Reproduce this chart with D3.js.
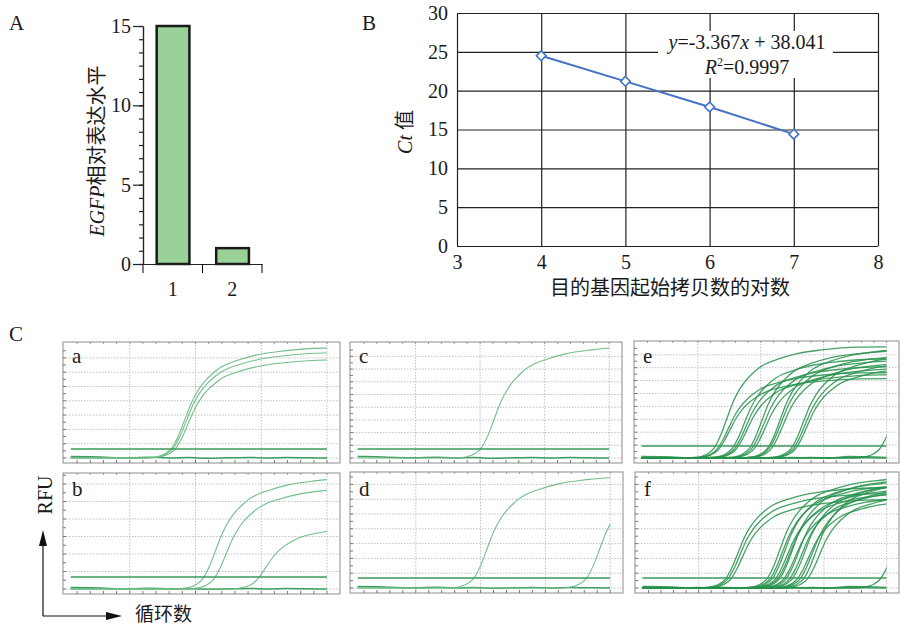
<!DOCTYPE html>
<html>
<head>
<meta charset="utf-8">
<script src="https://cdn.jsdelivr.net/npm/d3@7"></script>
<style>
body { margin: 0; background: #fff; }
text { font-family: "Liberation Serif", "Times New Roman", serif; fill: #1a1a1a; }
.cjk { font-family: "Noto Sans CJK SC", sans-serif; }
.it { font-style: italic; }
</style>
</head>
<body>
<svg id="fig" width="901" height="627"></svg>
<script>
// ---- data ----
// A: relative EGFP expression
var barCats = ["1", "2"];
var barVals = [15, 1];

// B: standard curve
var logCopies = [4, 5, 6, 7];
var ctVals = [24.5, 21.2, 17.9, 14.4];

// C: amplification curves, each [mid cycle, plateau RFU]
var panelIds = ["a", "b", "c", "d", "e", "f"];
var thresholdRFU = [9, 12, 9, 10, 12, 10];
var curvesA = [[19.4, 111], [19.6, 106], [19.9, 99]];
var curvesB = [[24.1, 112], [25.7, 102], [31.8, 64]];
var curvesC = [[23.2, 112]];
var curvesD = [[22.0, 112], [39.4, 112]];
var curvesE = [[15.6, 112], [15.9, 86], [16.1, 80], [18.4, 100], [18.7, 92], [18.9, 84],
  [21.2, 108], [21.5, 98], [21.8, 90], [24.1, 110], [24.3, 103], [24.6, 96],
  [27.8, 104], [28.1, 97], [28.4, 92], [41.9, 100]];
var curvesF = [[17.3, 101], [17.6, 95], [18.0, 89], [24.0, 111], [24.4, 104], [24.8, 108],
  [25.2, 96], [25.6, 100], [26.0, 110], [26.5, 92], [27.0, 105], [27.5, 98], [28.0, 106],
  [28.6, 89], [29.2, 102], [29.8, 108], [30.3, 95], [42.0, 100]];
var ampShape = [[-50, 0], [-8, 0], [-6, 0.005], [-5, 0.015], [-4, 0.04], [-3, 0.09], [-2, 0.2],
  [-1, 0.35], [0, 0.5], [1, 0.61], [2, 0.69], [3, 0.75], [4, 0.8], [5, 0.835], [7, 0.88],
  [10, 0.93], [14, 0.965], [20, 0.99], [50, 1]];
// no-template controls, slight drift along baseline
var flatCycles = [1, 4, 7, 10, 13, 16, 19, 22, 25, 28, 31, 34, 37, 40];
var flatRFU = [1.5, 1.2, 0.6, 0.3, 0.8, 0, 0.4, -0.3, 0.2, 0.6, 0, 0.5, 0.2, 0];
var cycleTicks = [10, 20, 30, 40];

var serif = "'Liberation Serif', 'Times New Roman', serif";
var svg = d3.select("#fig");

// ---- A ----
var gA = svg.append("g");
var aX = d3.scaleBand().domain(barCats).range([143, 262]);
var aY = d3.scaleLinear().domain([0, 15]).range([264, 26]);

gA.append("g")
  .attr("transform", "translate(143,0)")
  .call(d3.axisLeft(aY).tickValues(d3.range(0, 15.01, 5 / 6)).tickSize(4).tickSizeOuter(0).tickFormat(""));
gA.append("g")
  .attr("transform", "translate(143,0)")
  .call(d3.axisLeft(aY).tickValues([0, 5, 10, 15]).tickSize(10).tickSizeOuter(0).tickPadding(2))
  .attr("font-size", 20)
  .attr("font-family", serif);

gA.selectAll(".bar")
  .data(barVals)
  .enter().append("rect")
  .attr("x", (d, i) => aX(barCats[i]) + aX.bandwidth() * 0.23)
  .attr("width", aX.bandwidth() * 0.55)
  .attr("y", d => aY(d))
  .attr("height", d => aY(0) - aY(d))
  .attr("fill", "#99d199")
  .attr("stroke", "#1a1a1a")
  .attr("stroke-width", 2.5);

gA.append("g")
  .attr("transform", "translate(0,264)")
  .call(d3.axisBottom(aX).tickSize(0).tickSizeOuter(0).tickPadding(18))
  .attr("font-size", 20)
  .attr("font-family", serif);
gA.selectAll(".bt")
  .data([aX.range()[0]].concat(barCats.map(c => aX(c) + aX.bandwidth())))
  .enter().append("line")
  .attr("x1", d => d).attr("x2", d => d)
  .attr("y1", 264).attr("y2", 273)
  .attr("stroke", "#000");
gA.selectAll(".domain, .tick line").attr("stroke", "#222").attr("stroke-width", 1.2);

var aLab = gA.append("text")
  .attr("transform", "translate(104,151) rotate(-90)")
  .attr("text-anchor", "middle")
  .style("font-size", "20px");
aLab.append("tspan").attr("class", "it").text("EGFP");
aLab.append("tspan").attr("class", "cjk").text("相对表达水平");

svg.append("text").attr("x", 9).attr("y", 30).style("font-size", "21px").text("A");

// ---- B ----
var gB = svg.append("g");
var bX = d3.scaleLinear().domain([3, 8]).range([457, 878]);
var bY = d3.scaleLinear().domain([0, 30]).range([246, 13]);

gB.append("g")
  .attr("transform", "translate(457,0)")
  .call(d3.axisLeft(bY).tickValues(d3.range(0, 31, 5)).tickSize(-(878 - 457)).tickSizeOuter(0).tickPadding(9))
  .attr("font-size", 20)
  .attr("font-family", serif);
gB.append("g")
  .attr("transform", "translate(0,246)")
  .call(d3.axisBottom(bX).tickValues(d3.range(3, 9)).tickFormat(d3.format("d"))
    .tickSize(-(246 - 13)).tickSizeOuter(0).tickPadding(9))
  .attr("font-size", 20)
  .attr("font-family", serif);
gB.selectAll(".domain").remove();
gB.selectAll(".tick line").attr("stroke", "#222").attr("stroke-width", 1.2);

// equation box over the grid
gB.append("rect").attr("x", 658).attr("y", 31).attr("width", 175).attr("height", 47).attr("fill", "#fff");
var eq = gB.append("text").attr("x", 747).attr("y", 49).attr("text-anchor", "middle").style("font-size", "20px");
eq.append("tspan").attr("class", "it").text("y");
eq.append("tspan").text("=-3.367");
eq.append("tspan").attr("class", "it").text("x");
eq.append("tspan").text(" + 38.041");
var r2 = gB.append("text").attr("x", 747).attr("y", 74).attr("text-anchor", "middle").style("font-size", "20px");
r2.append("tspan").attr("class", "it").text("R");
r2.append("tspan").attr("dy", -8).style("font-size", "12px").text("2");
r2.append("tspan").attr("dy", 8).text("=0.9997");

var bLine = d3.line().x((d, i) => bX(logCopies[i])).y(d => bY(d));
gB.append("path")
  .attr("d", bLine(ctVals))
  .attr("fill", "none")
  .attr("stroke", "#4472c4")
  .attr("stroke-width", 2);
gB.selectAll(".pt")
  .data(ctVals)
  .enter().append("path")
  .attr("transform", (d, i) => "translate(" + bX(logCopies[i]) + "," + bY(d) + ")")
  .attr("d", d3.symbol().type(d3.symbolDiamond2).size(60))
  .attr("fill", "#fff")
  .attr("stroke", "#4472c4")
  .attr("stroke-width", 1.6);

var bYl = gB.append("text")
  .attr("transform", "translate(412,132) rotate(-90)")
  .attr("text-anchor", "middle")
  .style("font-size", "20px");
bYl.append("tspan").attr("class", "it").text("Ct ");
bYl.append("tspan").attr("class", "cjk").text("值");
gB.append("text").attr("class", "cjk").attr("x", 670).attr("y", 295)
  .attr("text-anchor", "middle").style("font-size", "20px")
  .text("目的基因起始拷贝数的对数");

svg.append("text").attr("x", 362).attr("y", 30).style("font-size", "21px").text("B");

// ---- C ----
svg.append("text").attr("x", 9).attr("y", 341).style("font-size", "21px").text("C");

var panelBox = [
  { L: 63, T: 342, W: 277, H: 121, step: 14.3 },
  { L: 63, T: 473, W: 277, H: 121, step: 17.5 },
  { L: 350, T: 342, W: 272, H: 121, step: 12.7 },
  { L: 350, T: 472, W: 273, H: 121, step: 14.8 },
  { L: 634, T: 341, W: 265, H: 122, step: 12.9 },
  { L: 635, T: 472, W: 264, H: 121, step: 14.8 }
];
var panelCurves = [curvesA, curvesB, curvesC, curvesD, curvesE, curvesF];
var flatCount = [1, 1, 1, 1, 2, 2];

panelIds.forEach(function(id, p) {
  var b = panelBox[p];
  var g = svg.append("g");
  var base = b.T + b.H - 5;
  var x = d3.scaleLinear().domain([0, 40]).range([b.L + 1, b.L + b.W * 0.953]);
  var y = d3.scaleLinear().domain([0, 120]).range([base, base - 120]);
  var dense = p >= 4;

  g.append("rect").attr("x", b.L).attr("y", b.T).attr("width", b.W).attr("height", b.H)
    .attr("fill", "#fff").attr("stroke", "#8c8c8c").attr("stroke-width", 1);

  // dotted grid
  var hs = d3.range(0, 10).map(k => k * b.step).filter(v => y(v) > b.T + 2);
  g.selectAll(".hg").data(hs).enter().append("line")
    .attr("x1", b.L).attr("x2", b.L + b.W)
    .attr("y1", d => y(d)).attr("y2", d => y(d))
    .attr("stroke", "#b0b0b0").attr("stroke-width", 0.8).attr("stroke-dasharray", "1.5,1.5");
  g.selectAll(".vg").data(cycleTicks).enter().append("line")
    .attr("x1", d => x(d)).attr("x2", d => x(d))
    .attr("y1", b.T).attr("y2", b.T + b.H)
    .attr("stroke", "#b0b0b0").attr("stroke-width", 0.8).attr("stroke-dasharray", "1.5,1.5");

  // frame ticks
  var ct = d3.range(2, 41, 2);
  g.selectAll(".bt").data(ct).enter().append("line")
    .attr("x1", d => x(d)).attr("x2", d => x(d))
    .attr("y1", b.T + b.H).attr("y2", b.T + b.H - 3)
    .attr("stroke", "#777");
  g.selectAll(".tt").data(ct).enter().append("line")
    .attr("x1", d => x(d)).attr("x2", d => x(d))
    .attr("y1", b.T).attr("y2", b.T + 2)
    .attr("stroke", "#999");
  var lt = d3.range(0, 20).map(k => k * b.step / 2).filter(v => y(v) > b.T + 2);
  g.selectAll(".lt").data(lt).enter().append("line")
    .attr("x1", b.L).attr("x2", b.L + 3)
    .attr("y1", d => y(d)).attr("y2", d => y(d))
    .attr("stroke", "#777");

  // curves
  var clipId = "clip-" + id;
  g.append("clipPath").attr("id", clipId).append("rect")
    .attr("x", x(1)).attr("y", b.T).attr("width", x(40) - x(1)).attr("height", b.H);
  var cg = g.append("g").attr("clip-path", "url(#" + clipId + ")");
  var line = d3.line().x(d => x(d[0])).y(d => y(d[1])).curve(d3.curveMonotoneX);

  for (var f = 0; f < flatCount[p]; f++) {
    cg.append("path")
      .attr("d", line(flatCycles.map((c, i) => [c, flatRFU[(i + f * 3) % flatRFU.length]])))
      .attr("fill", "none").attr("stroke", "#3d9d5f").attr("stroke-width", 1.5);
  }

  cg.selectAll(".amp").data(panelCurves[p]).enter().append("path")
    .attr("d", c => line(ampShape.map(s => [c[0] + s[0], c[1] * s[1]])))
    .attr("fill", "none")
    .attr("stroke", dense ? "#25904a" : "#6cba86")
    .attr("stroke-opacity", dense ? 0.85 : 0.95)
    .attr("stroke-width", dense ? 1.3 : 1.1);

  cg.append("line")
    .attr("x1", x(1)).attr("x2", x(40))
    .attr("y1", y(thresholdRFU[p])).attr("y2", y(thresholdRFU[p]))
    .attr("stroke", "#3a9a5c").attr("stroke-width", 1.6);

  g.append("text").attr("x", b.L + 9).attr("y", p % 2 === 0 ? 363 : 496)
    .style("font-size", "21px").text(id);
});

// axis arrows
var gAr = svg.append("g");
gAr.append("line").attr("x1", 43).attr("x2", 43).attr("y1", 616).attr("y2", 540)
  .attr("stroke", "#111").attr("stroke-width", 1.2);
gAr.append("path").attr("d", "M43,530 L39,546 L47,546 Z").attr("fill", "#111");
gAr.append("line").attr("x1", 43).attr("x2", 112).attr("y1", 616).attr("y2", 616)
  .attr("stroke", "#111").attr("stroke-width", 1.2);
gAr.append("path").attr("d", "M122,616 L106,612 L106,620 Z").attr("fill", "#111");
svg.append("text")
  .attr("transform", "translate(52,495) rotate(-90)")
  .attr("text-anchor", "middle")
  .style("font-size", "20px")
  .text("RFU");
svg.append("text").attr("class", "cjk").attr("x", 135).attr("y", 621)
  .style("font-size", "19px").text("循环数");
</script>
</body>
</html>
